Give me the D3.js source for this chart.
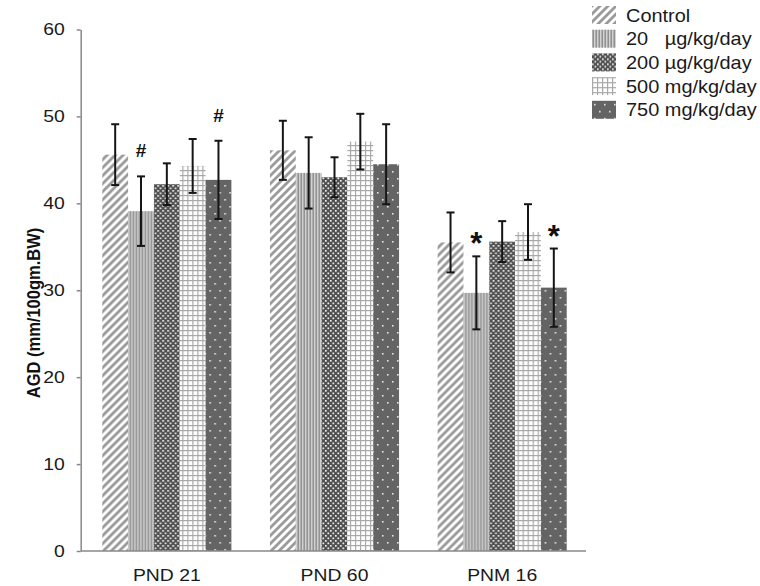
<!DOCTYPE html>
<html><head><meta charset="utf-8">
<script src="https://cdn.jsdelivr.net/npm/d3@7"></script>
<style>body{margin:0;background:#fff}svg{display:block;font-family:"Liberation Sans",Arial,sans-serif}.pre{white-space:pre}</style>
</head><body><svg id="c" width="760" height="586"></svg>
<script>
const categories = ["PND 21", "PND 60", "PNM 16"];
const seriesNames = ["Control", "20   µg/kg/day", "200 µg/kg/day", "500 mg/kg/day", "750 mg/kg/day"];
const means = [
  [45.6, 39.1, 42.2, 44.3, 42.7],
  [46.1, 43.5, 43.0, 47.1, 44.5],
  [35.5, 29.7, 35.6, 36.7, 30.3]
];
const sds = [
  [3.5, 4.0, 2.4, 3.1, 4.5],
  [3.4, 4.1, 2.3, 3.2, 4.6],
  [3.45, 4.2, 2.35, 3.2, 4.5]
];
const markers = [
  {cat: 0, ser: 1, sym: "#"}, {cat: 0, ser: 4, sym: "#"},
  {cat: 2, ser: 1, sym: "*"}, {cat: 2, ser: 4, sym: "*"}
];
const yTicks = [0, 10, 20, 30, 40, 50, 60];
const yTitle = "AGD (mm/100gm.BW)";

const SX = 1.14;
const svg = d3.select("#c");
const defs = svg.append("defs");
function pat(id, w, h) {
  return defs.append("pattern").attr("id", id).attr("patternUnits", "userSpaceOnUse").attr("width", w).attr("height", h);
}
let p = pat("p0", 8, 8);
p.append("rect").attr("width", 8).attr("height", 8).attr("fill", "#fff");
p.append("path").attr("d", "M-2,2 L2,-2 M0,8 L8,0 M6,10 L10,6").attr("stroke", "#9a9a9a").attr("stroke-width", 2.8);
p = pat("p1", 3, 6);
p.append("rect").attr("width", 3).attr("height", 6).attr("fill", "#d2d2d2");
p.append("rect").attr("x", 0.5).attr("width", 1.4).attr("height", 6).attr("fill", "#8a8a8a");
p = pat("p2", 5, 5);
p.append("rect").attr("width", 5).attr("height", 5).attr("fill", "#4f4f4f");
p.append("rect").attr("x", 0).attr("y", 0).attr("width", 1.7).attr("height", 1.7).attr("fill", "#f0f0f0");
p.append("rect").attr("x", 2.5).attr("y", 2.5).attr("width", 1.7).attr("height", 1.7).attr("fill", "#f0f0f0");
p = pat("p3", 5, 5);
p.append("rect").attr("width", 5).attr("height", 5).attr("fill", "#fff");
p.append("rect").attr("x", 0).attr("width", 1.2).attr("height", 5).attr("fill", "#a8a8a8");
p.append("rect").attr("y", 0).attr("width", 5).attr("height", 1.2).attr("fill", "#a8a8a8");
p = pat("p4", 10, 14);
p.append("rect").attr("width", 10).attr("height", 14).attr("fill", "#646464");
p.append("rect").attr("x", 2).attr("y", 3).attr("width", 1.6).attr("height", 1.6).attr("fill", "#e6e6e6");
p.append("rect").attr("x", 7).attr("y", 10).attr("width", 1.6).attr("height", 1.6).attr("fill", "#e6e6e6");
const fills = seriesNames.map((d, i) => `url(#p${i})`);

const y = d3.scaleLinear().domain([0, 60]).range([551, 29.5]);
const x0 = d3.scaleBand().domain(categories).range([83, 586]).paddingInner(0.23).paddingOuter(0.115);
const x1 = d3.scaleBand().domain(d3.range(seriesNames.length)).range([0, x0.bandwidth()]);

// y axis
const ya = svg.append("g").attr("transform", "translate(80.7,0)")
  .call(d3.axisLeft(y).tickValues(yTicks).tickSize(4).tickPadding(12).tickSizeOuter(0));
ya.select(".domain").attr("stroke", "#888").attr("stroke-width", 1.5);
ya.selectAll(".tick line").attr("stroke", "#888").attr("stroke-width", 1.5);
ya.selectAll(".tick text").attr("font-size", 17).attr("fill", "#1a1a1a")
  .attr("font-family", "Liberation Sans, Arial, sans-serif")
  .attr("transform", `translate(-16,0) scale(${SX},1)`).attr("x", 0);

// bars
const rows = (d, ci) => means[ci].map((v, si) => ({v, si, sd: sds[ci][si]}));
const groups = svg.append("g").selectAll("g").data(categories).join("g")
  .attr("transform", d => `translate(${x0(d)},0)`);
groups.selectAll("rect").data(rows).join("rect")
  .attr("x", d => x1(d.si)).attr("width", x1.bandwidth())
  .attr("y", d => y(d.v)).attr("height", d => y(0) - y(d.v))
  .attr("fill", d => fills[d.si]);

// error bars
const cxOf = d => x1(d.si) + x1.bandwidth() / 2;
const eb = groups.selectAll("g.eb").data(rows).join("g").attr("class", "eb")
  .attr("stroke", "#151515").attr("stroke-width", 2);
eb.append("line").attr("x1", cxOf).attr("x2", cxOf)
  .attr("y1", d => y(d.v + d.sd)).attr("y2", d => y(d.v - d.sd));
eb.append("line").attr("x1", d => cxOf(d) - 4).attr("x2", d => cxOf(d) + 4)
  .attr("y1", d => y(d.v + d.sd)).attr("y2", d => y(d.v + d.sd));
eb.append("line").attr("x1", d => cxOf(d) - 4).attr("x2", d => cxOf(d) + 4)
  .attr("y1", d => y(d.v - d.sd)).attr("y2", d => y(d.v - d.sd));

// x axis baseline + labels
svg.append("line").attr("x1", 80.7).attr("x2", 586).attr("y1", y(0)).attr("y2", y(0)).attr("stroke", "#888").attr("stroke-width", 1.5);
svg.append("g").selectAll("text").data(categories).join("text")
  .attr("transform", d => `translate(${x0(d) + x0.bandwidth() / 2},581) scale(${SX},1)`)
  .attr("text-anchor", "middle").attr("font-size", 17).attr("fill", "#1a1a1a").text(d => d);

// markers
svg.append("g").selectAll("text").data(markers).join("text")
  .attr("transform", d => {
    const cx = x0(categories[d.cat]) + x1(d.ser) + x1.bandwidth() / 2;
    const top = y(means[d.cat][d.ser] + sds[d.cat][d.ser]);
    return d.sym === "#" ? `translate(${cx},${top - 19})` : `translate(${cx},${top - 2})`;
  })
  .attr("text-anchor", "middle").attr("font-weight", "bold")
  .attr("font-size", d => d.sym === "#" ? 19 : 31).attr("fill", "#111").text(d => d.sym);

// y title
svg.append("text").attr("transform", `translate(40,313) rotate(-90) scale(1,${SX})`)
  .attr("text-anchor", "middle").attr("font-size", 16.5).attr("font-weight", "bold").attr("fill", "#111").text(yTitle);

// legend
const lg = svg.append("g").selectAll("g").data(seriesNames).join("g")
  .attr("transform", (d, i) => `translate(592,${6 + i * 23.7})`);
lg.append("rect").attr("width", 24).attr("height", 18).attr("fill", (d, i) => fills[i]);
lg.append("text").attr("class", "pre").attr("xml:space", "preserve")
  .attr("transform", `translate(34,15.5) scale(${SX},1)`).attr("font-size", 17.5).attr("fill", "#1a1a1a").text(d => d);
</script></body></html>
